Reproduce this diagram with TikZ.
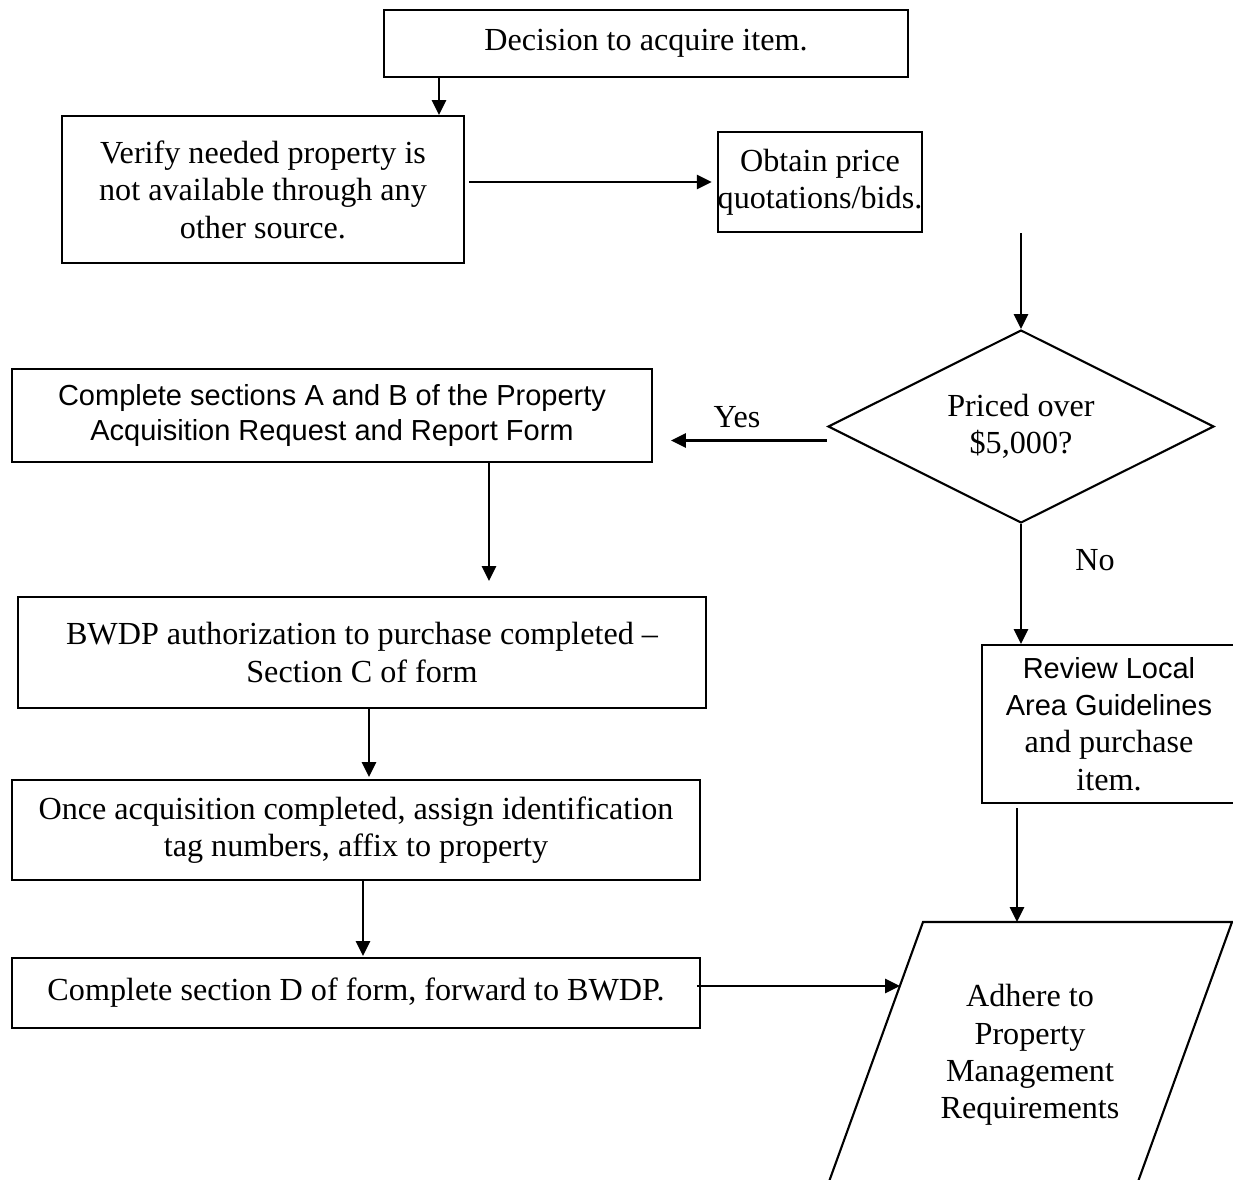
\documentclass[tikz,border=0pt]{standalone}
\usepackage{fontspec}
\setmainfont{Liberation Serif}
\newfontfamily\sansf{Liberation Sans}
\usetikzlibrary{shapes.geometric,arrows.meta,calc}
\begin{document}
\begin{tikzpicture}[x=0.02cm,y=-0.02cm,
  line width=1.2pt,
  box/.style={draw,rectangle,inner sep=0pt,align=center,font=\fontsize{18.3}{21.3}\selectfont},
  sbox/.style={box,font=\sansf\fontsize{16.5}{19.9}\selectfont},
  dec/.style={draw,diamond,aspect=2,inner sep=0pt,align=center,font=\fontsize{18.3}{21.3}\selectfont},
  arr/.style={line width=1.5pt,-{Triangle[length=8.5pt,width=8pt]}},
  lbl/.style={inner sep=0pt,align=center,font=\fontsize{18.3}{21.3}\selectfont}]
\useasboundingbox (0,0) rectangle (1233,1179);

% nodes
\node[box,minimum width=10.48cm,minimum height=1.34cm] (b1) at (646,43.5) {Decision to acquire item.};
\node[box,minimum width=8.04cm,minimum height=2.94cm] (b2) at (263,189.5) {Verify needed property is\\not available through any\\other source.};
\node[box,minimum width=4.08cm,minimum height=2cm] (b3) at (820,182) {Obtain price\\quotations/bids.};
\node[dec,minimum width=7.72cm,minimum height=3.86cm] (dia) at (1021,426.5) {Priced over\\\$5,000?};
\node[sbox,minimum width=12.8cm,minimum height=1.86cm] (b4) at (332,415.5) {Complete sections A and B of the Property\\Acquisition Request and Report Form};
\node[box,minimum width=13.76cm,minimum height=2.22cm] (b5) at (362,652.5) {BWDP authorization to purchase completed --\\Section C of form};
\node[box,minimum width=13.76cm,minimum height=2cm] (b6) at (356,830) {Once acquisition completed, assign identification\\tag numbers, affix to property};
\node[box,minimum width=13.76cm,minimum height=1.4cm] (b7) at (356,993) {Complete section D of form, forward to BWDP.};
\node[box,minimum width=5.08cm,minimum height=3.16cm] (b8) at (1109,724) {{\sansf\fontsize{16.5}{19.9}\selectfont Review Local}\\{\sansf\fontsize{16.5}{19.9}\selectfont Area Guidelines}\\and purchase\\item.};

% parallelogram
\coordinate (pTL) at (923,922);
\coordinate (pTR) at (1232,922);
\coordinate (pBR) at (1135.7,1188);
\coordinate (pBL) at (826.7,1188);
\coordinate (pL) at (900,986);
\draw (pTL) -- (pTR) -- (pBR) -- (pBL) -- cycle;
\node[lbl] (adhere) at (1030,1055) {Adhere to\\Property\\Management\\Requirements};

% labels
\node[lbl] (yes) at (737,417) {Yes};
\node[lbl] (no) at (1095,560) {No};

% connectors
\coordinate (a1) at ($(b1.south west)+(56,0)$);
\draw[arr] (a1) -- (a1 |- b2.north);
\draw[arr,shorten <=0.08cm,shorten >=0.1cm] (b2.east |- b3.west) -- (b3.west);
\coordinate (a3) at (b3.south -| dia.north);
\draw[arr] (a3) -- (dia.north);
\coordinate (ys) at ($(dia.west)+(0,14)$);
\draw[arr,shorten >=0.36cm] (ys) -- (ys -| b4.east);
\coordinate (a4) at ($(b4.south west)+(478,0)$);
\draw[arr,shorten >=0.3cm] (a4) -- (a4 |- b5.north);
\coordinate (a5) at ($(b5.south west)+(352,0)$);
\draw[arr,shorten >=0.04cm] (a5) -- (a5 |- b6.north);
\coordinate (a6) at ($(b6.south west)+(352,0)$);
\draw[arr,shorten >=0.02cm] (a6) -- (a6 |- b7.north);
\coordinate (a7) at ($(b7.east)+(-4,-7)$);
\draw[arr] (a7) -- (pL);
\draw[arr] (dia.south) -- (dia.south |- b8.north);
\coordinate (a8) at ($(b8.south west)+(36,4)$);
\draw[arr] (a8) -- (a8 |- pTL);
\end{tikzpicture}
\end{document}
